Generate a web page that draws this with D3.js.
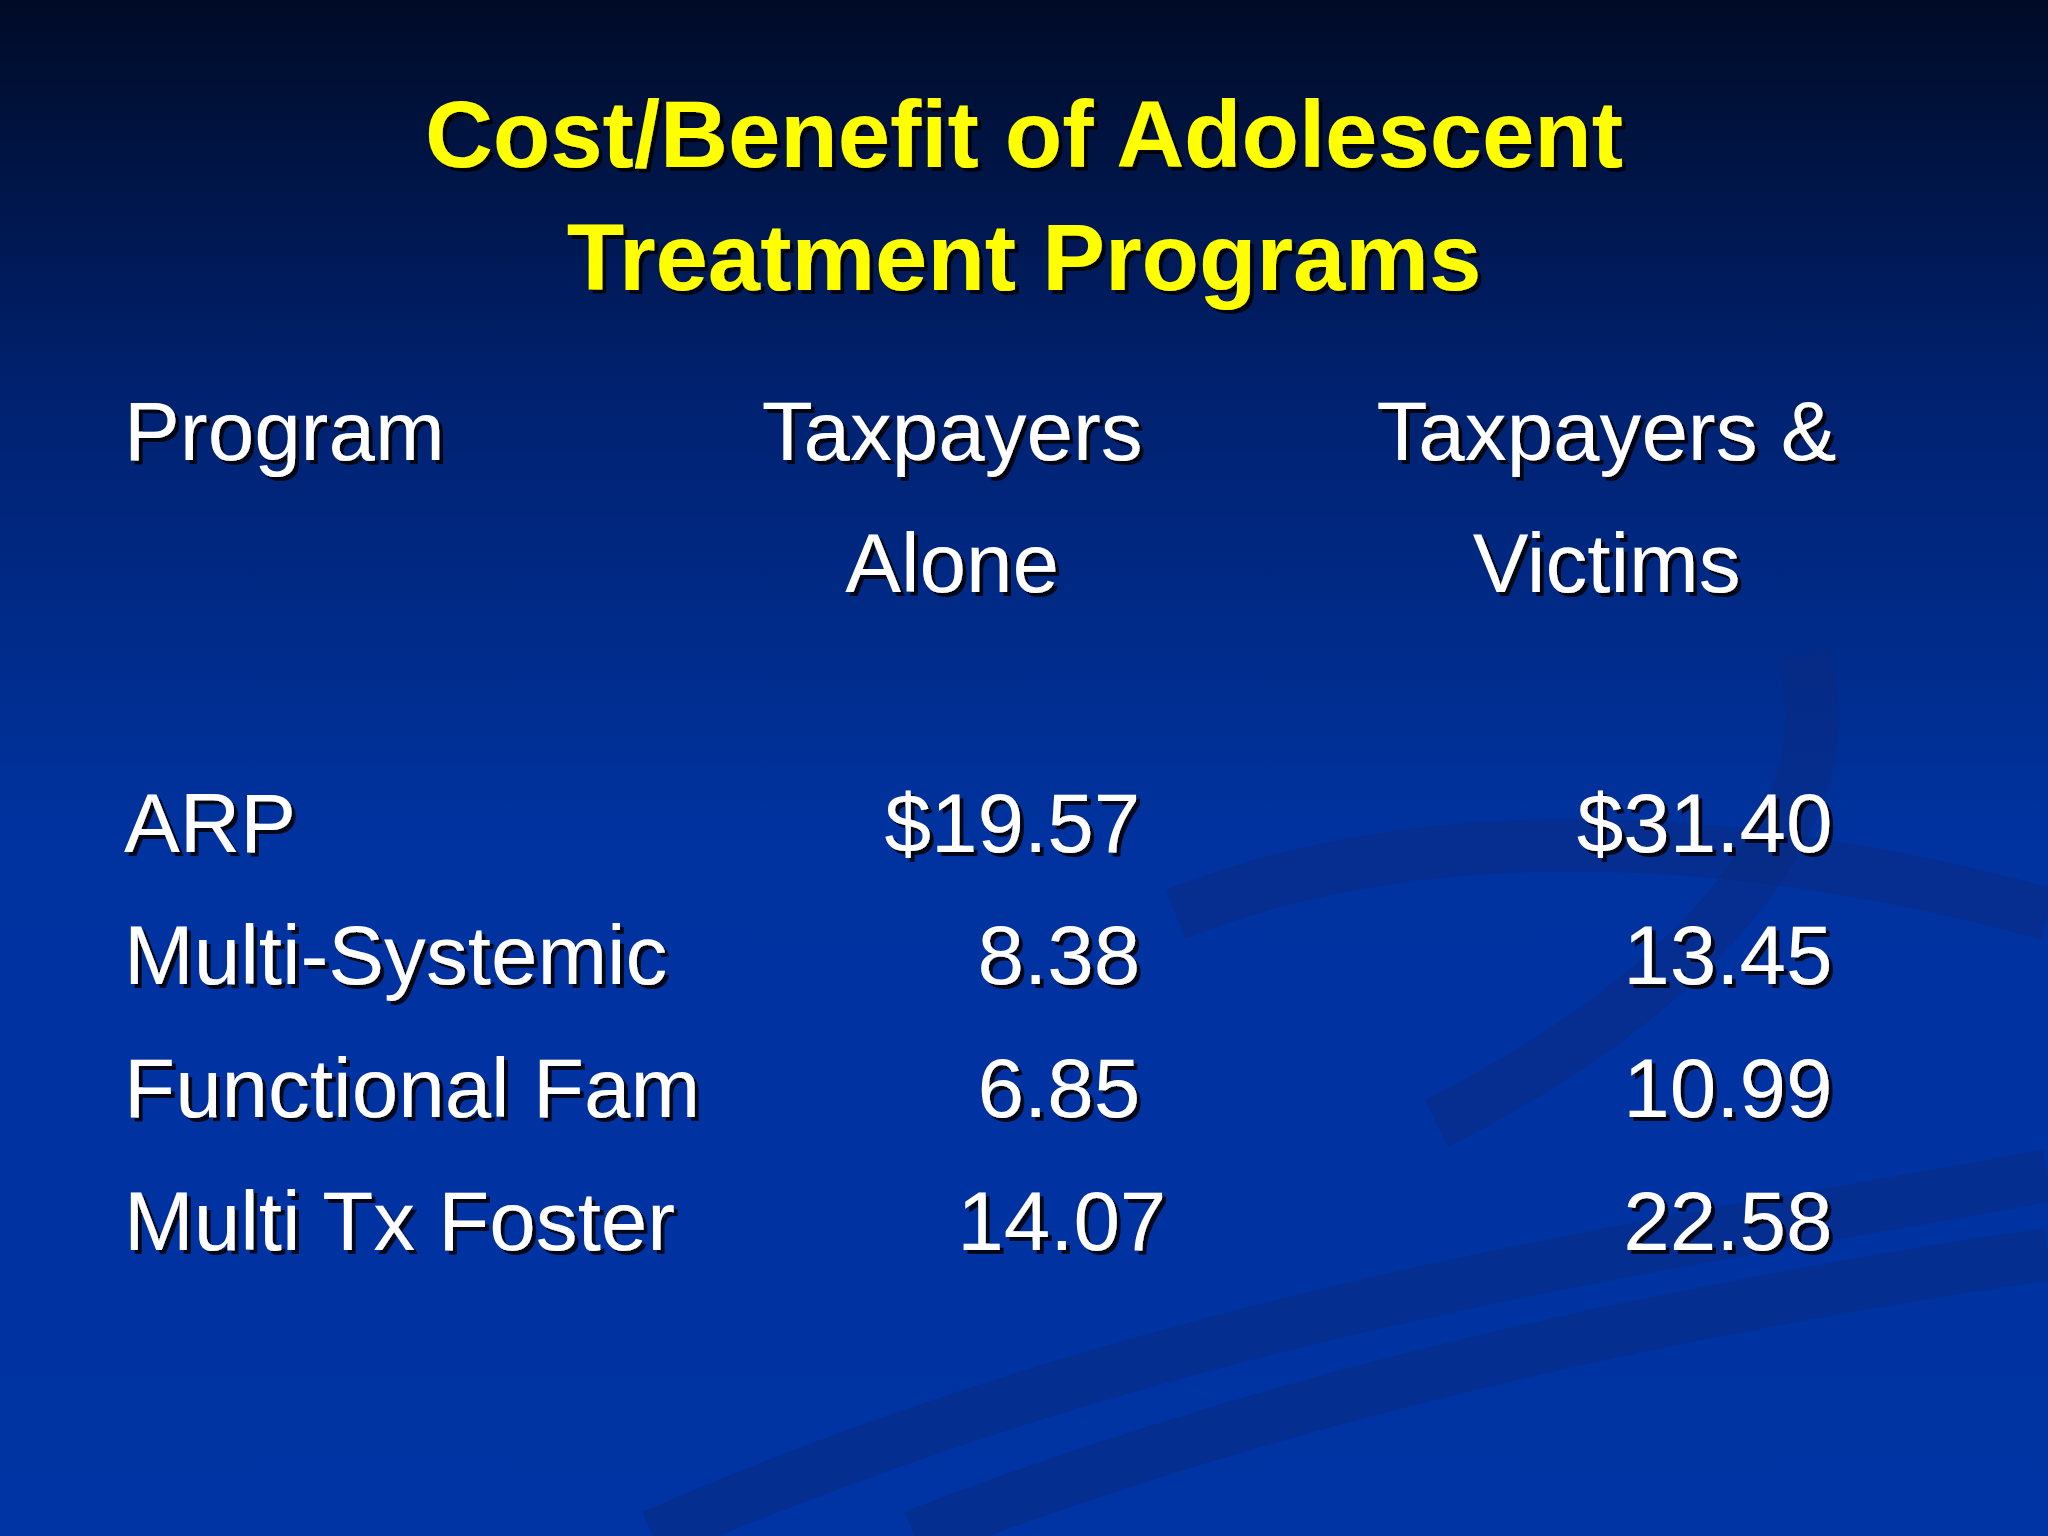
<!DOCTYPE html>
<html>
<head>
<meta charset="utf-8">
<script src="https://cdn.jsdelivr.net/npm/d3@7"></script>
<style>
  html, body { margin: 0; padding: 0; background: #001a66; overflow: hidden; }
  svg { display: block; }
</style>
</head>
<body>
<div id="slide"></div>
<script>
// donnees du tableau
const titleLines = ["Cost/Benefit of Adolescent", "Treatment Programs"];
const headerProgram = ["Program"];
const headerAlone = ["Taxpayers", "Alone"];
const headerVictims = ["Taxpayers &", "Victims"];
const programs = ["ARP", "Multi-Systemic", "Functional Fam", "Multi Tx Foster"];
const taxpayersAlone = ["$19.57", "8.38", "6.85", "14.07"];
const taxpayersVictims = ["$31.40", "13.45", "10.99", "22.58"];

const W = 1568, H = 1176;
const svg = d3.select("#slide").append("svg")
    .attr("width", 2048).attr("height", 1536)
    .attr("viewBox", "0 0 " + W + " " + H);

const defs = svg.append("defs");
const grad = defs.append("linearGradient").attr("id", "bg")
    .attr("x1", 0).attr("y1", 0).attr("x2", 0).attr("y2", 1);
grad.append("stop").attr("offset", "0%").attr("stop-color", "#000b26");
grad.append("stop").attr("offset", "25%").attr("stop-color", "#00216e");
grad.append("stop").attr("offset", "55%").attr("stop-color", "#0033a0");
grad.append("stop").attr("offset", "100%").attr("stop-color", "#0033a3");

const shadow = defs.append("filter").attr("id", "shadow");
shadow.append("feDropShadow").attr("dx", 3).attr("dy", 3).attr("stdDeviation", 0.6)
    .attr("flood-color", "#000").attr("flood-opacity", 0.85);

svg.append("rect").attr("width", W).attr("height", H).attr("fill", "url(#bg)");

// volutes discretes du fond
const swirls = [
  "M 500 1176 C 900 1000, 1300 950, 1568 900",
  "M 700 1176 C 1000 1060, 1300 1000, 1568 960",
  "M 900 700 C 1100 620, 1350 640, 1568 700",
  "M 1380 500 C 1420 620, 1300 760, 1100 860"
];
svg.append("g").selectAll("path").data(swirls).enter().append("path")
    .attr("d", d => d)
    .attr("fill", "none")
    .attr("stroke", "#0a2a80")
    .attr("stroke-opacity", 0.5)
    .attr("stroke-width", 40);

const font = "Liberation Sans, Arial, sans-serif";

// titre
svg.append("g").selectAll("text").data(titleLines).enter().append("text")
    .attr("x", W / 2)
    .attr("y", (d, i) => 128 + i * 94)
    .attr("text-anchor", "middle")
    .attr("font-family", font)
    .attr("font-weight", "bold")
    .attr("font-size", 72)
    .attr("fill", "#ffff00")
    .attr("filter", "url(#shadow)")
    .text(d => d);

function headerBlock(lines, x, anchor) {
  svg.append("g").selectAll("text").data(lines).enter().append("text")
      .attr("x", x)
      .attr("y", (d, i) => 352 + i * 101)
      .attr("text-anchor", anchor)
      .attr("font-family", font)
      .attr("font-size", 64)
      .attr("fill", "#ffffff")
      .attr("filter", "url(#shadow)")
      .text(d => d);
}
headerBlock(headerProgram, 95, "start");
headerBlock(headerAlone, 729, "middle");
headerBlock(headerVictims, 1230, "middle");

// lignes
const y = d3.scalePoint().domain(programs).range([652, 957]);

const rows = svg.append("g").selectAll("g").data(programs).enter().append("g")
    .attr("transform", d => "translate(0," + y(d) + ")")
    .attr("font-family", font)
    .attr("font-size", 64)
    .attr("fill", "#ffffff")
    .attr("filter", "url(#shadow)");

rows.append("text").attr("x", 95).text(d => d);
rows.append("text").attr("x", (d, i) => i === 3 ? 893 : 873)
    .attr("text-anchor", "end").text((d, i) => taxpayersAlone[i]);
rows.append("text").attr("x", 1403)
    .attr("text-anchor", "end").text((d, i) => taxpayersVictims[i]);
</script>
</body>
</html>
